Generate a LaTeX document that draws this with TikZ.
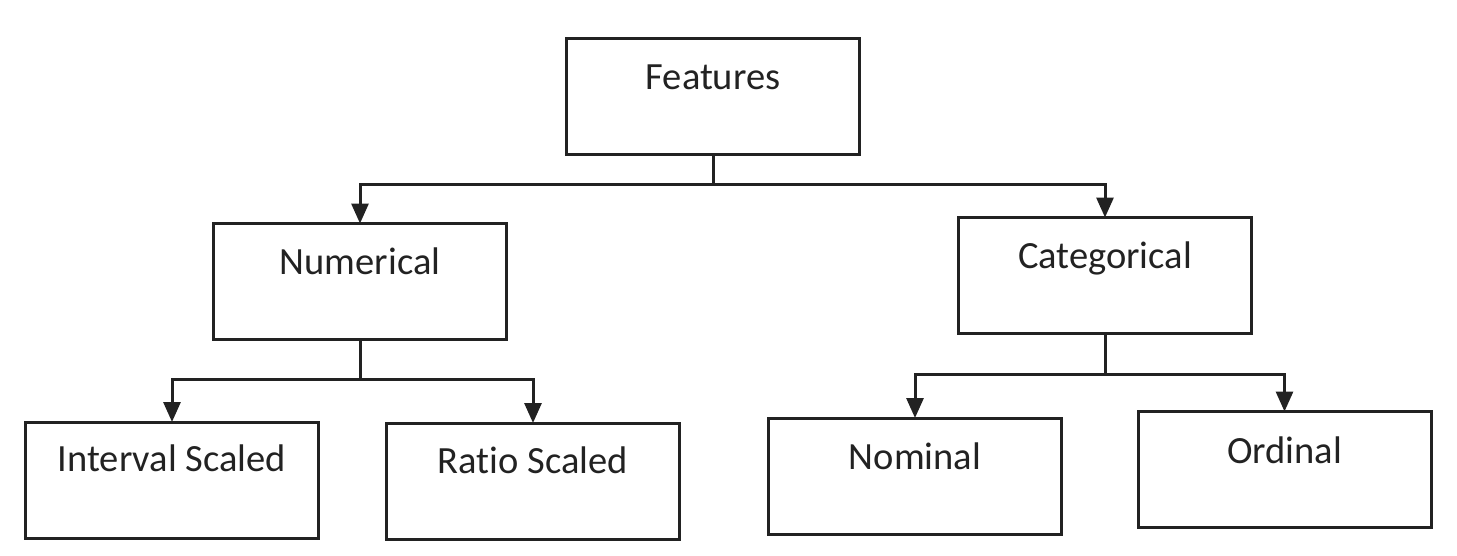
\documentclass[tikz,border=0pt]{standalone}
\usepackage{fontspec}
\setmainfont{Carlito}[RawFeature={-liga}]
\usetikzlibrary{arrows.meta}
\definecolor{ink}{HTML}{222222}
\tikzset{
  x=1pt, y=1pt,
  box/.style={draw=ink, line width=3pt, rectangle, inner sep=0pt, outer sep=0pt,
              minimum width=293pt, minimum height=116pt},
  lbl/.style={anchor=base, inner sep=0pt, text=ink, font=\fontsize{38.5}{44}\selectfont},
  conn/.style={draw=ink, line width=3pt, -{Triangle[length=20pt,width=17pt]}}
}
\begin{document}
\begin{tikzpicture}
\useasboundingbox (0,0) rectangle (1457,-555);
% boxes
\node[box] (feat) at (713,-96.5) {};
\node[box] (num)  at (360,-281.5) {};
\node[box] (cat)  at (1105,-275.5) {};
\node[box] (intv) at (172,-480) {};
\node[box] (rat)  at (533,-481) {};
\node[box] (nom)  at (915,-476) {};
\node[box] (ord)  at (1284.5,-469.5) {};
% labels
\node[lbl] (featT) at ([yshift=-51pt]feat.north) {Features};
\node[lbl] (numT)  at ([yshift=-51pt]num.north) {Numerical};
\node[lbl] (catT)  at ([yshift=-51pt]cat.north) {Categorical};
\node[lbl] (intvT) at ([yshift=-49pt]intv.north) {Interval Scaled};
\node[lbl] (ratT)  at ([yshift=-50pt]rat.north) {Ratio Scaled};
\node[lbl] (nomT)  at ([yshift=-51pt]nom.north) {Nominal};
\node[lbl] (ordT)  at ([yshift=-52pt]ord.north) {Ordinal};
% connectors
\coordinate (fj) at ([yshift=-30pt]feat.south);
\coordinate (nj) at ([yshift=-40pt]num.south);
\coordinate (cj) at ([yshift=-41pt]cat.south);
\draw[draw=ink, line width=3pt] (feat.south) -- (fj);
\draw[conn] (fj) -| (num.north);
\draw[conn] (fj) -| (cat.north);
\draw[draw=ink, line width=3pt] (num.south) -- (nj);
\draw[conn] (nj) -| (intv.north);
\draw[conn] (nj) -| (rat.north);
\draw[draw=ink, line width=3pt] (cat.south) -- (cj);
\draw[conn] (cj) -| (nom.north);
\draw[conn] (cj) -| (ord.north);
\end{tikzpicture}
\end{document}
